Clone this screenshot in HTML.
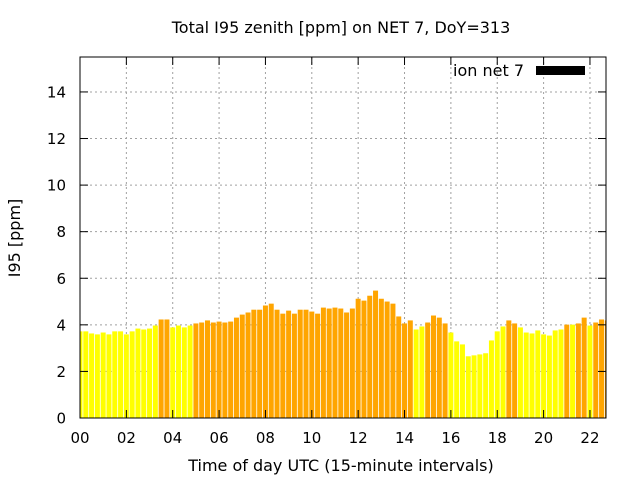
<!DOCTYPE html>
<html><head><meta charset="utf-8"><style>
body{margin:0;background:#fff;}
svg text{font-family:"DejaVu Sans",sans-serif;}
</style></head><body>
<svg width="640" height="480" xmlns="http://www.w3.org/2000/svg">
<defs><clipPath id="pc"><rect x="80" y="57" width="526" height="361"/></clipPath></defs>
<g id="grid"></g>
<g id="bars" clip-path="url(#pc)"></g>
<rect x="80" y="57" width="526" height="361" fill="none" stroke="#000" stroke-width="1"/>
<g id="ticks"></g>
<text x="341" y="33" font-size="16" text-anchor="middle">Total I95 zenith [ppm] on NET 7, DoY=313</text>
<text x="341" y="471" font-size="16" text-anchor="middle">Time of day UTC (15-minute intervals)</text>
<text x="20" y="238" font-size="16" text-anchor="middle" transform="rotate(-90 20 238)">I95 [ppm]</text>
<g>
<text x="524" y="76" font-size="16" text-anchor="end">ion net 7</text>
<rect x="536" y="66" width="49" height="9" fill="#000"/>
</g>
</svg>
<script>
const values=[3.72,3.72,3.63,3.59,3.67,3.59,3.72,3.72,3.59,3.72,3.84,3.80,3.84,3.97,4.23,4.23,3.89,3.97,3.89,3.97,4.06,4.10,4.19,4.10,4.14,4.10,4.14,4.31,4.44,4.53,4.65,4.65,4.83,4.91,4.65,4.48,4.61,4.48,4.65,4.65,4.57,4.48,4.74,4.70,4.74,4.70,4.53,4.70,5.12,5.04,5.25,5.47,5.12,5.00,4.91,4.36,4.06,4.19,3.80,3.93,4.10,4.40,4.31,4.06,3.67,3.29,3.16,2.65,2.69,2.73,2.78,3.33,3.72,3.93,4.19,4.06,3.89,3.67,3.63,3.76,3.59,3.54,3.76,3.80,4.01,4.01,4.06,4.31,3.97,4.10,4.23,4.19];
const colors=["Y","Y","Y","Y","Y","Y","Y","Y","Y","Y","Y","Y","Y","Y","O","O","Y","Y","Y","Y","O","O","O","O","O","O","O","O","O","O","O","O","O","O","O","O","O","O","O","O","O","O","O","O","O","O","O","O","O","O","O","O","O","O","O","O","O","O","Y","Y","O","O","O","O","Y","Y","Y","Y","Y","Y","Y","Y","Y","Y","O","O","Y","Y","Y","Y","Y","Y","Y","Y","O","Y","O","O","Y","O","O","O"];
const xTicks=["00","02","04","06","08","10","12","14","16","18","20","22"];
const yTicks=[0,2,4,6,8,10,12,14];
const NS="http://www.w3.org/2000/svg";
const X=h=>80+h*23.18, Y=v=>418-v*23.29;
function mk(t,a,p){const e=document.createElementNS(NS,t);for(const k in a)e.setAttribute(k,a[k]);p.appendChild(e);return e;}
const grid=document.getElementById('grid'),bars=document.getElementById('bars'),ticks=document.getElementById('ticks');
yTicks.forEach(v=>{
 if(v>0){const g=mk('line',{x1:80,x2:606,y1:Y(v),y2:Y(v),stroke:'#a0a0a0','stroke-dasharray':'2,3'},grid);
 
 }
 const t=mk('line',{x1:80,x2:88,y1:Y(v),y2:Y(v),stroke:'#000'},ticks);
 
 
 const t2=mk('line',{x1:598,x2:606,y1:Y(v),y2:Y(v),stroke:'#000'},ticks);
 
 
 const l=mk('text',{x:66,y:Y(v)+5.5,'font-size':15,'text-anchor':'end'},ticks);l.textContent=v;
 
 
});
xTicks.forEach((s,i)=>{const x=X(i*2);
 if(i>0){const g=mk('line',{x1:x,x2:x,y1:57,y2:418,stroke:'#a0a0a0','stroke-dasharray':'2,3'},grid);
 
 }
 const t=mk('line',{x1:x,x2:x,y1:410,y2:418,stroke:'#000'},ticks);
 
 
 const t2=mk('line',{x1:x,x2:x,y1:57,y2:65,stroke:'#000'},ticks);
 
 
 const l=mk('text',{x:x,y:443,'font-size':15,'text-anchor':'middle'},ticks);l.textContent=s;
 
 
});
values.forEach((v,k)=>{const c=X(k*0.25);
 const r=mk('rect',{x:c-2.5,y:Y(v),width:5,height:418-Y(v),fill:colors[k]==='O'?'#ffa500':'#ffff00'},bars);
 
 
});
</script>
</body></html>
